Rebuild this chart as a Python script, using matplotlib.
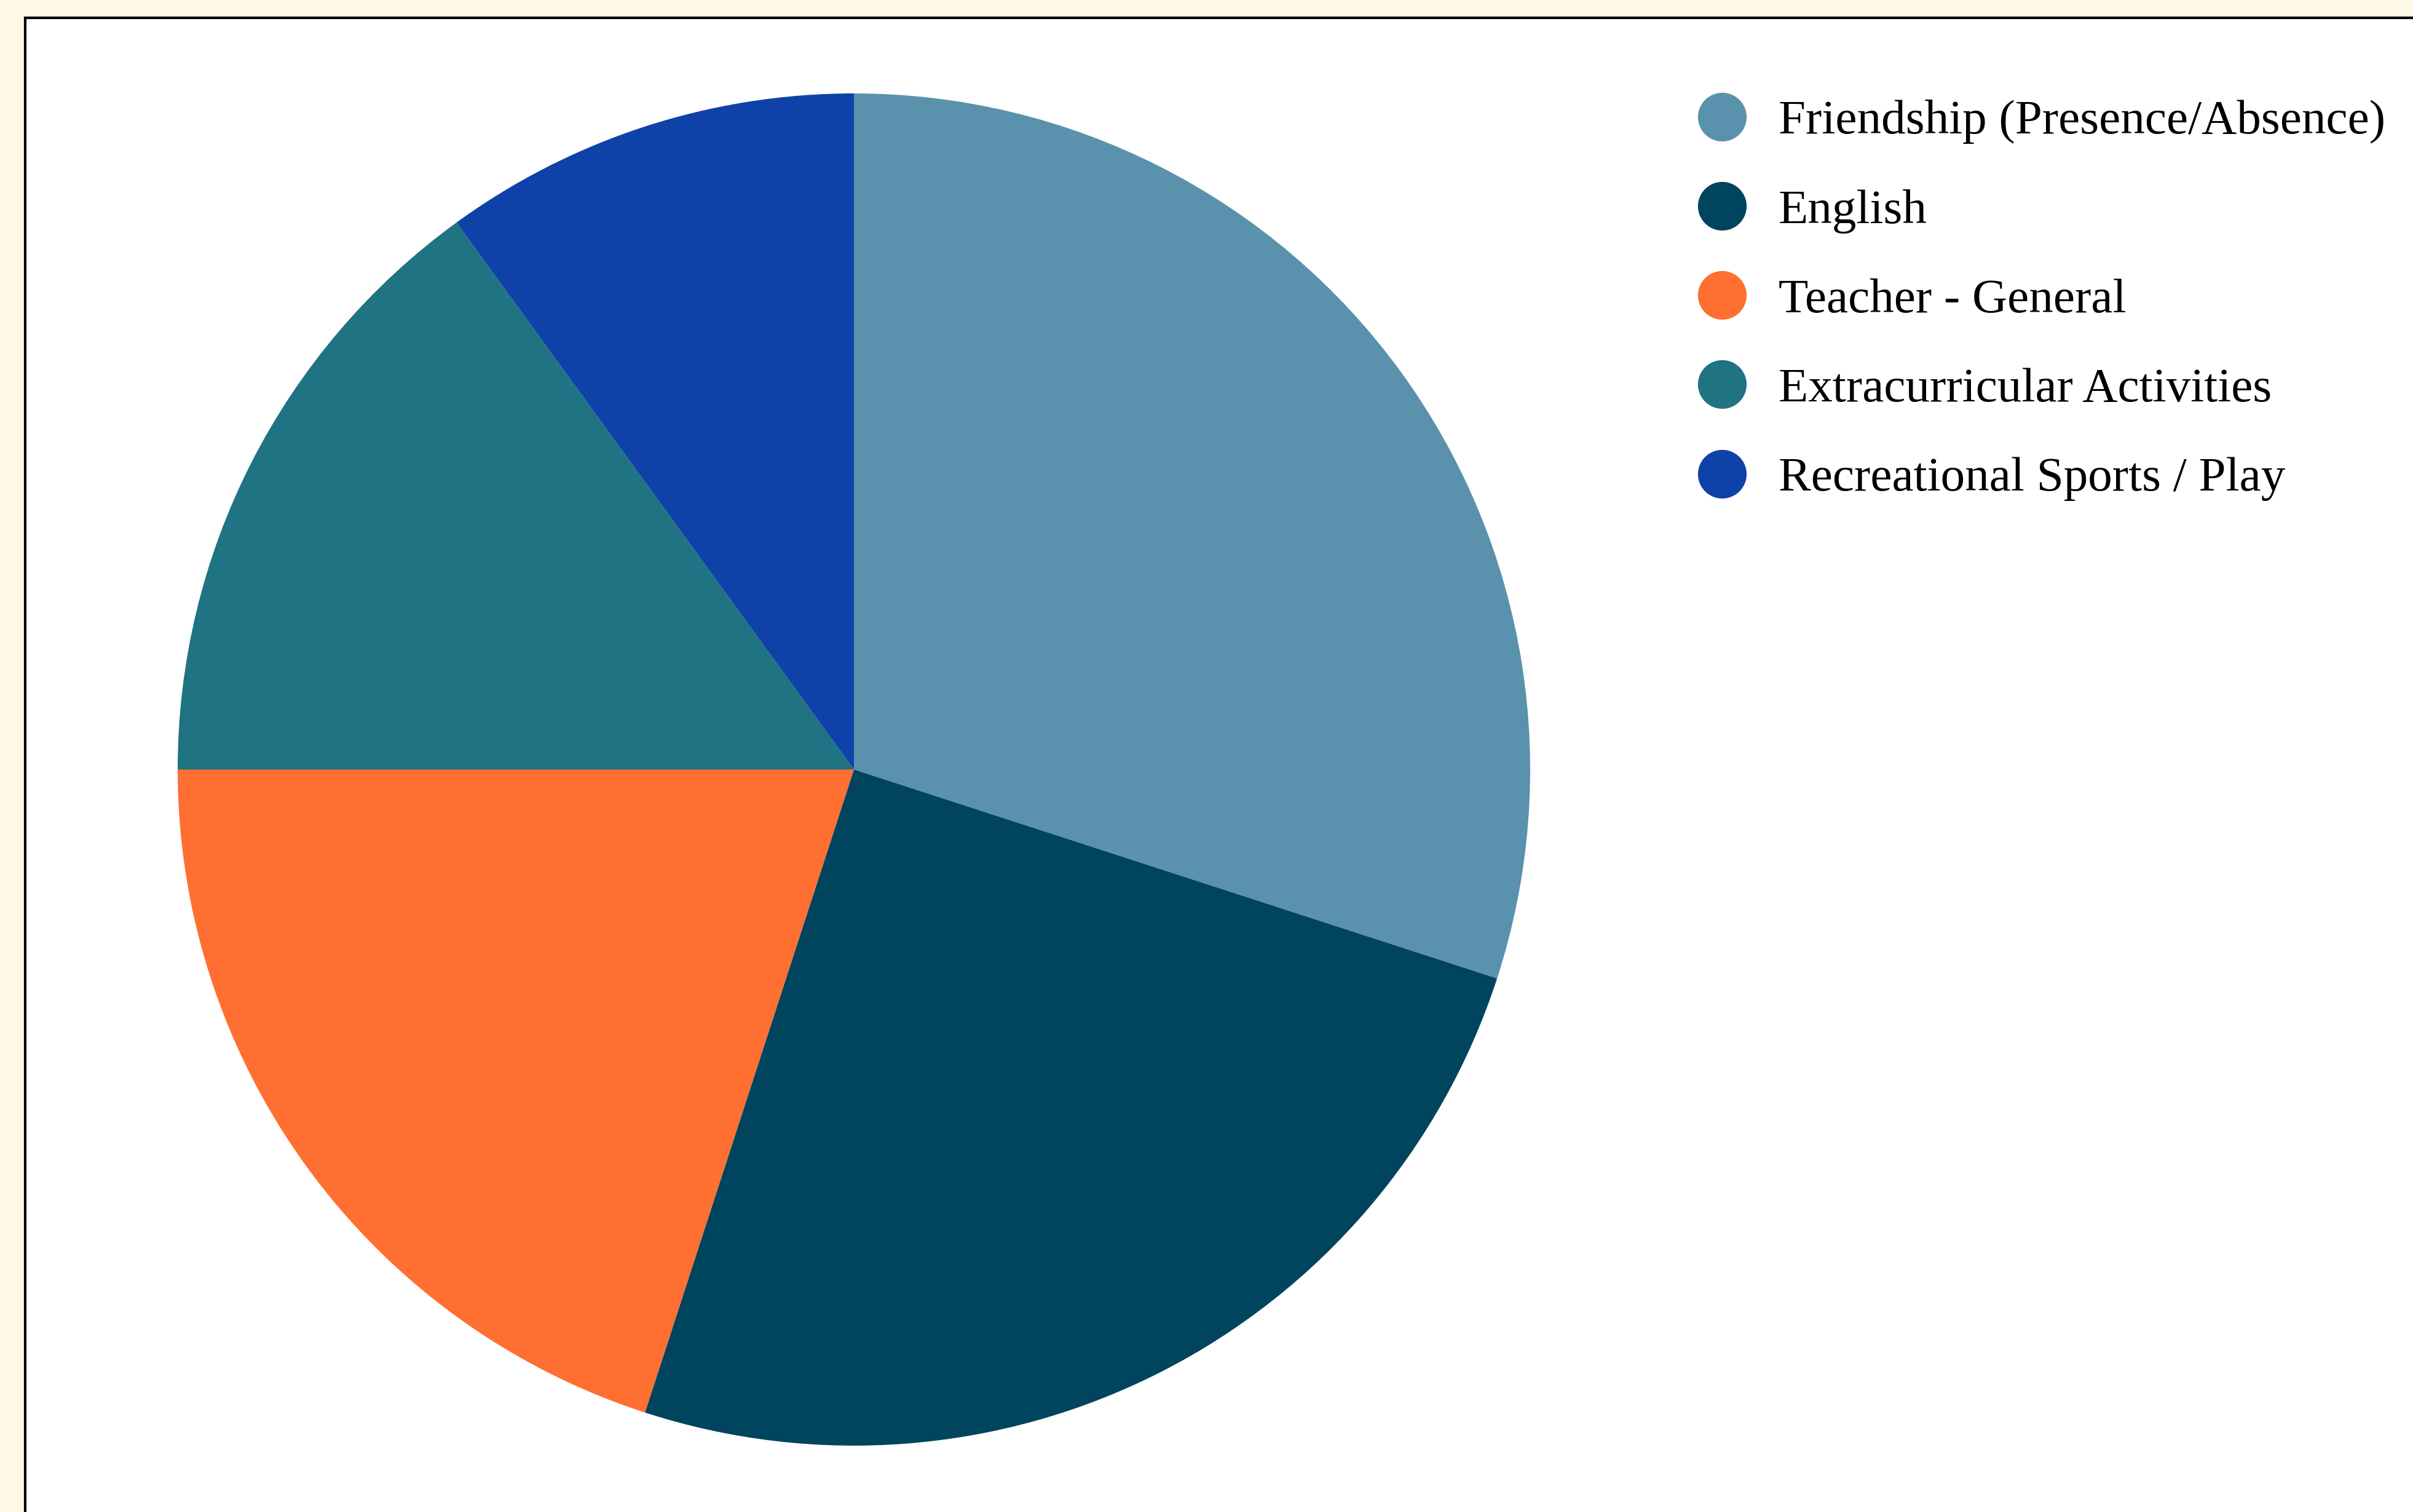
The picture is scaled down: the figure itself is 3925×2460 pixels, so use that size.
import matplotlib
matplotlib.use("Agg")
import matplotlib.pyplot as plt
from matplotlib.patches import Rectangle
from matplotlib.lines import Line2D

categories = ["Friendship (Presence/Absence)", "English", "Teacher - General",
              "Extracurricular Activities", "Recreational Sports / Play"]
values = [30, 25, 20, 15, 10]
colors = ["#5A91AD", "#00445E", "#FF6F31", "#1F7383", "#0F42A8"]

W, H = 3925, 2460
DPI = 100
fig = plt.figure(figsize=(W / DPI, H / DPI), dpi=DPI)
fig.patch.set_facecolor("#FFF8E5")

# white panel with black border (top/left visible)
panel = Rectangle((41 / W, -0.05), 1.1, (H - 29) / H + 0.05, transform=fig.transFigure,
                  facecolor="white", edgecolor="black", linewidth=3.0, zorder=-10)
fig.patches.append(panel)

cx, cy, r = 1389, 1252, 1100
ax = fig.add_axes([(cx - r) / W, (H - cy - r) / H, 2 * r / W, 2 * r / H])
ax.set_zorder(5)
ax.pie(values, colors=colors, startangle=90, counterclock=False, radius=1,
       wedgeprops=dict(linewidth=0))
ax.set_xlim(-1, 1)
ax.set_ylim(-1, 1)
ax.set_aspect("equal")
ax.axis("off")

fs = 57
handles = [Line2D([], [], linestyle="none", marker="o", markersize=57,
                  markerfacecolor=c, markeredgecolor="none") for c in colors]
leg = fig.legend(handles, categories, loc="upper left",
                 bbox_to_anchor=(2762 / W, 1 - 162 / H),
                 frameon=False, borderpad=0, borderaxespad=0,
                 handlelength=56 / fs, handletextpad=0.67, labelspacing=0.92,
                 prop={"family": "Liberation Serif", "size": fs})
leg.set_zorder(6)

fig.savefig("out.png", dpi=DPI, facecolor=fig.get_facecolor())
